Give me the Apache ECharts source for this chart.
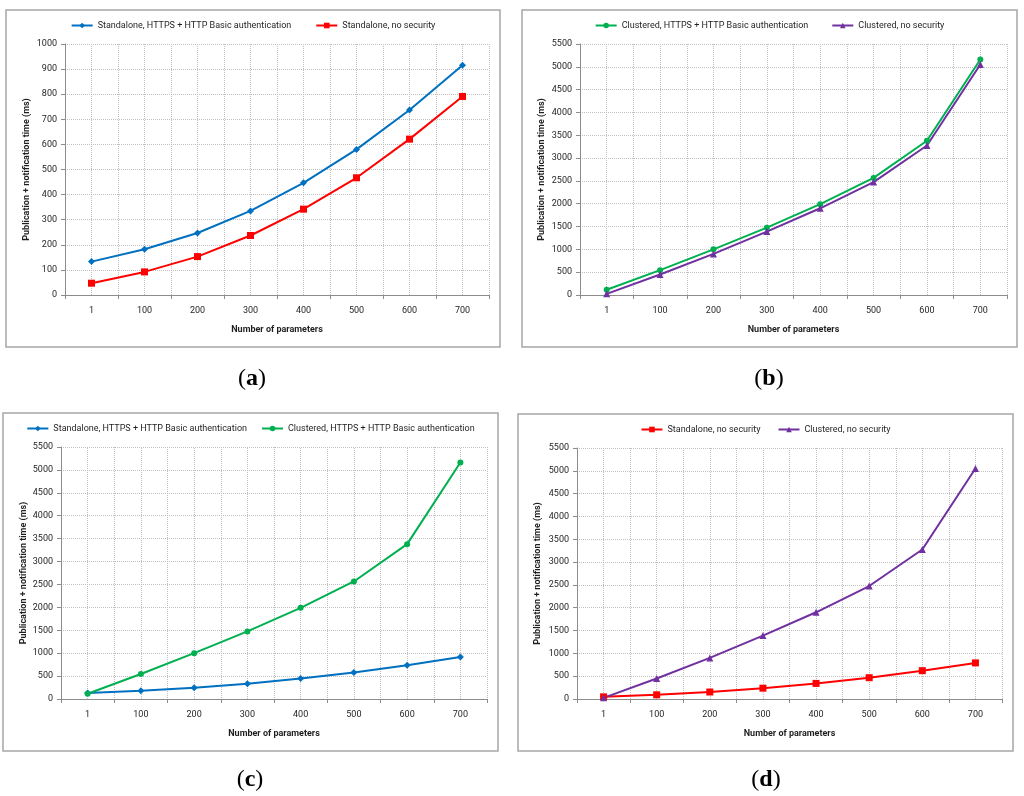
<!DOCTYPE html>
<html>
<head>
<meta charset="utf-8">
<script src="https://cdn.jsdelivr.net/npm/echarts@6/dist/echarts.min.js"></script>
<style>
html,body{margin:0;padding:0;background:#fff;width:1024px;height:796px;overflow:hidden;}
.p{position:absolute;}
</style>
</head>
<body>
<div id="pa" class="p" style="left:0;top:0;width:506px;height:400px"></div>
<div id="pb" class="p" style="left:516px;top:0;width:507px;height:400px"></div>
<div id="pc" class="p" style="left:0;top:400px;width:501px;height:396px"></div>
<div id="pd" class="p" style="left:513px;top:400px;width:505px;height:396px"></div>
<script>
// ---- data ----
const categories = ['1', '100', '200', '300', '400', '500', '600', '700'];
const standaloneSecure = [133, 182, 247, 335, 447, 580, 737, 915];
const standaloneNoSec = [47, 92, 153, 237, 342, 467, 621, 791];
const clusteredSecure = [115, 545, 1000, 1475, 1990, 2565, 3380, 5160];
const clusteredNoSec = [25, 450, 900, 1390, 1900, 2475, 3275, 5050];
const nameStandaloneSecure = 'Standalone, HTTPS + HTTP Basic authentication';
const nameStandaloneNoSec = 'Standalone, no security';
const nameClusteredSecure = 'Clustered, HTTPS + HTTP Basic authentication';
const nameClusteredNoSec = 'Clustered, no security';
const xAxisName = 'Number of parameters';
const yAxisName = 'Publication + notification time (ms)';
const captions = ['a', 'b', 'c', 'd'];

const FONT = "Roboto, 'Liberation Sans', Arial, sans-serif";
const FS = 9;
const GRIDC = '#c0c0c0';
const AXISC = '#8c8c8c';
const TXT = '#1f1f1f';

const styles = {
  ss: {name: nameStandaloneSecure, data: standaloneSecure, color: '#0070C0', symbol: 'diamond', size: 7},
  sn: {name: nameStandaloneNoSec, data: standaloneNoSec, color: '#FF0000', symbol: 'rect', size: 7},
  cs: {name: nameClusteredSecure, data: clusteredSecure, color: '#00B050', symbol: 'circle', size: 6},
  cn: {name: nameClusteredNoSec, data: clusteredNoSec, color: '#7030A0', symbol: 'triangle', size: 7}
};

function build(cfg) {
  const series = cfg.keys.map(k => {
    const s = styles[k];
    return {
      name: s.name, type: 'line', data: s.data,
      symbol: s.symbol, symbolSize: s.size,
      itemStyle: {color: s.color}, lineStyle: {color: s.color, width: 2},
      z: 3, animation: false
    };
  });
  // category centre gridlines
  series.push({
    type: 'line', data: [], z: 1, silent: true, animation: false,
    markLine: {
      silent: true, symbol: 'none', z: 1, animation: false,
      label: {show: false},
      lineStyle: {color: GRIDC, type: 'dotted', width: 1},
      data: categories.map(c => ({xAxis: c}))
    }
  });
  return {
    animation: false,
    textStyle: {fontFamily: FONT},
    legend: {
      top: cfg.legendTop, left: 'center', itemGap: cfg.legendGap, itemWidth: 21, itemHeight: 7,
      textStyle: {fontFamily: FONT, fontSize: FS, color: TXT},
      data: cfg.keys.map(k => styles[k].name)
    },
    grid: cfg.grid,
    xAxis: {
      type: 'category', data: categories, boundaryGap: true,
      name: xAxisName, nameLocation: 'middle', nameGap: 30, nameMoveOverlap: false,
      nameTextStyle: {fontFamily: FONT, fontWeight: 'bold', fontSize: FS, color: TXT},
      axisLine: {lineStyle: {color: AXISC}},
      axisTick: {show: true, length: 4, lineStyle: {color: AXISC}},
      axisLabel: {fontFamily: FONT, fontSize: FS, color: TXT, margin: 11},
      splitLine: {show: true, lineStyle: {color: GRIDC, type: 'dotted'}}
    },
    yAxis: {
      type: 'value', min: 0, max: cfg.max, interval: cfg.interval,
      name: yAxisName, nameLocation: 'middle', nameGap: cfg.nameGap, nameMoveOverlap: false,
      nameTextStyle: {fontFamily: FONT, fontWeight: 'bold', fontSize: FS, color: TXT},
      axisLine: {show: true, lineStyle: {color: AXISC}},
      axisTick: {show: true, length: 4, lineStyle: {color: AXISC}},
      axisLabel: {fontFamily: FONT, fontSize: FS, color: TXT, margin: 8,
                  formatter: v => String(v)},
      splitLine: {show: true, lineStyle: {color: GRIDC, type: 'dotted'}}
    },
    graphic: [
      {type: 'rect', z: -1, silent: true,
       shape: cfg.box, style: {fill: '#fff', stroke: '#a6a6a6', lineWidth: 1.5}},
      {type: 'text', silent: true, x: cfg.cap[0], y: cfg.cap[1],
       style: {
         text: '{p|(}{b|' + cfg.letter + '}{p|)}',
         align: 'center', verticalAlign: 'middle',
         rich: {
           p: {fontFamily: "'Liberation Serif', 'DejaVu Serif', serif", fontSize: 24, fill: '#000'},
           b: {fontFamily: "'Liberation Serif', 'DejaVu Serif', serif", fontSize: 24, fontWeight: 'bold', fill: '#000'}
         }
       }}
    ],
    series: series
  };
}

const panels = [
  {id: 'pa', keys: ['ss', 'sn'], max: 1000, interval: 100, nameGap: 34, legendTop: 16, legendGap: 24,
   grid: {left: 65, top: 44, right: 17, bottom: 105}, box: {x: 6, y: 10, width: 494, height: 337},
   cap: [252, 379], letter: captions[0]},
  {id: 'pb', keys: ['cs', 'cn'], max: 5500, interval: 500, nameGap: 34, legendTop: 16, legendGap: 23,
   grid: {left: 64, top: 44, right: 16, bottom: 105}, box: {x: 6, y: 10, width: 495, height: 337},
   cap: [253, 379], letter: captions[1]},
  {id: 'pc', keys: ['ss', 'cs'], max: 5500, interval: 500, nameGap: 33, legendTop: 19, legendGap: 14,
   grid: {left: 61, top: 47, right: 14, bottom: 97}, box: {x: 3, y: 13, width: 495, height: 338},
   cap: [250, 380], letter: captions[2]},
  {id: 'pd', keys: ['sn', 'cn'], max: 5500, interval: 500, nameGap: 35, legendTop: 20, legendGap: 17,
   grid: {left: 64, top: 48, right: 16, bottom: 97}, box: {x: 5, y: 14, width: 495, height: 337},
   cap: [253, 380], letter: captions[3]}
];

panels.forEach(p => {
  const chart = echarts.init(document.getElementById(p.id), null, {renderer: 'canvas'});
  chart.setOption(build(p));
});
</script>
</body>
</html>
